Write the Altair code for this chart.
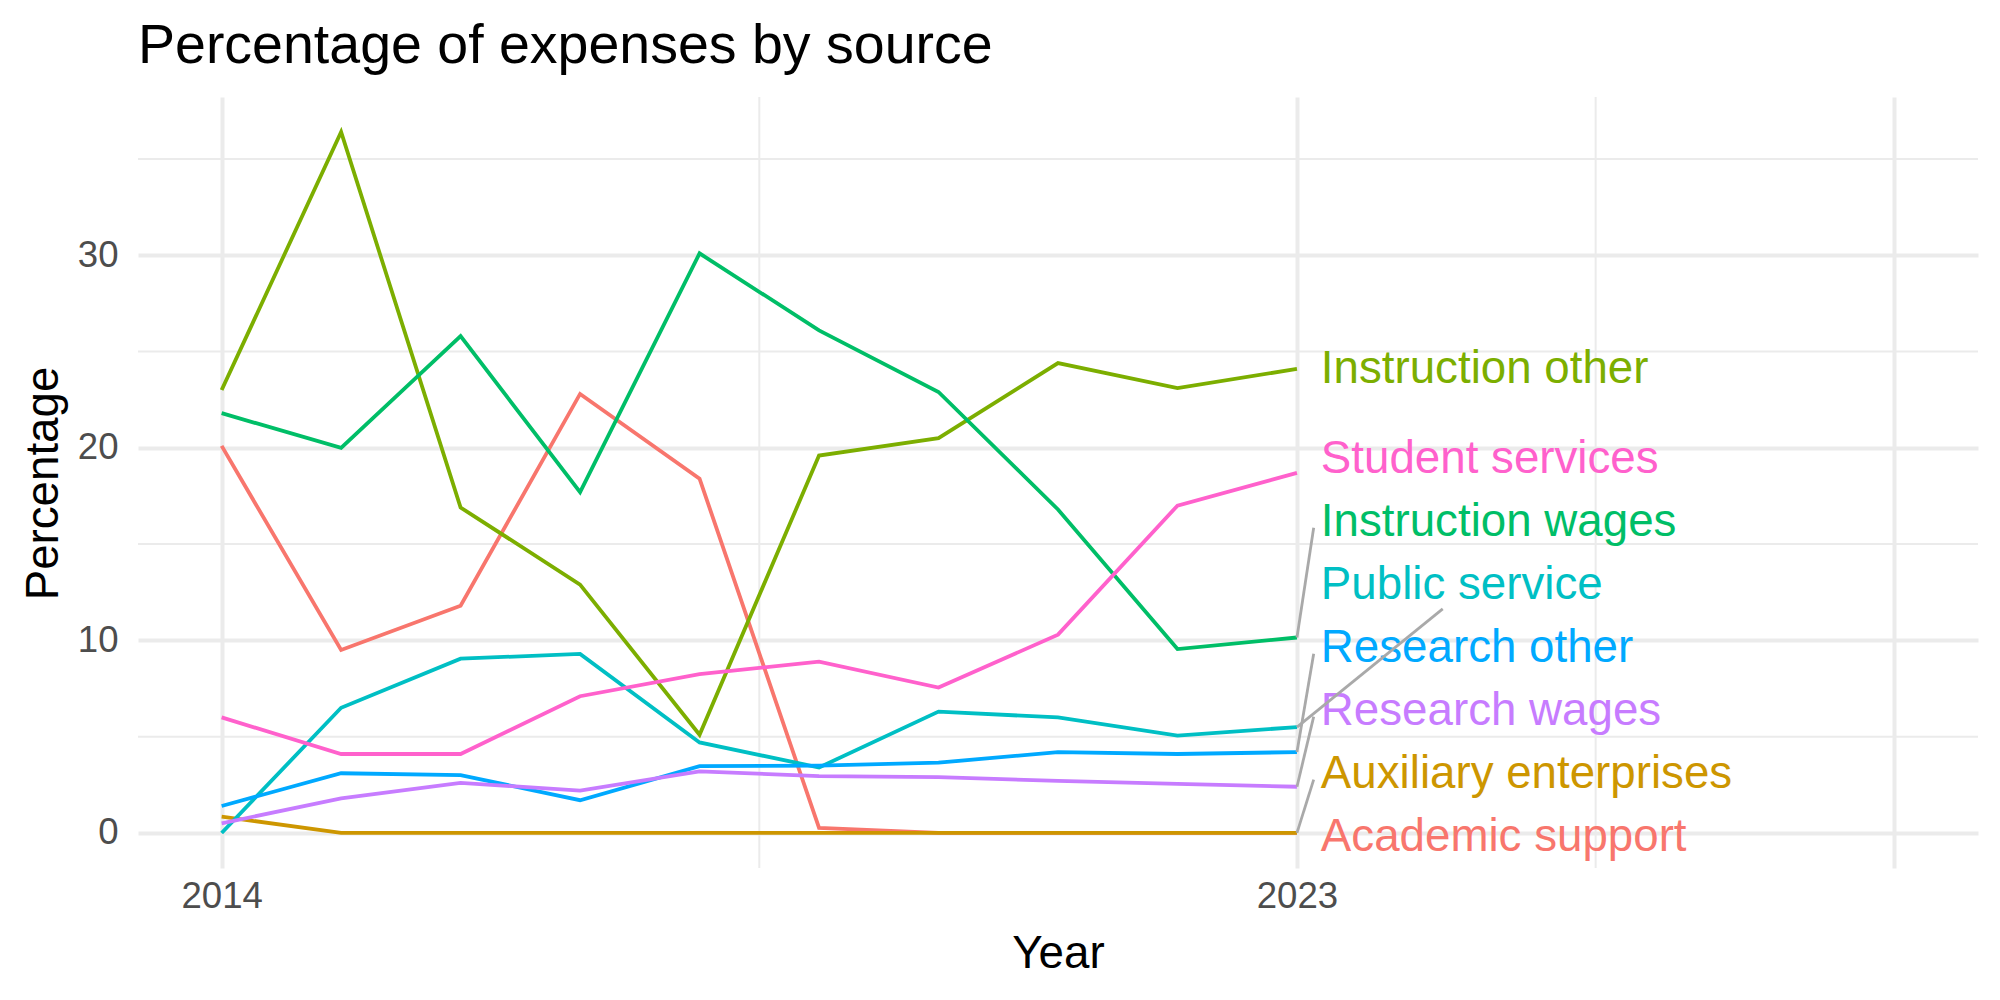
import altair as alt
import pandas as pd

# ---- data -------------------------------------------------------------
years = list(range(2014, 2024))

academic_support = [20.1, 9.5, 11.8, 22.8, 18.4, 0.26, 0.0, 0.0, 0.0, 0.0]
auxiliary_enterprises = [0.85, 0.0, 0.0, 0.0, 0.0, 0.0, 0.0, 0.0, 0.0, 0.0]
instruction_other = [23.0, 36.4, 16.9, 12.9, 5.1, 19.6, 20.5, 24.4, 23.1, 24.1]
instruction_wages = [21.8, 20.0, 25.8, 17.7, 30.1, 26.1, 22.9, 16.8, 9.55, 10.15]
public_service = [0.0, 6.5, 9.05, 9.3, 4.7, 3.4, 6.3, 6.0, 5.05, 5.5]
research_other = [1.4, 3.1, 3.0, 1.7, 3.47, 3.5, 3.65, 4.2, 4.1, 4.2]
research_wages = [0.5, 1.8, 2.6, 2.2, 3.2, 2.95, 2.9, 2.7, 2.55, 2.4]
student_services = [6.0, 4.1, 4.1, 7.1, 8.25, 8.9, 7.55, 10.3, 17.0, 18.7]

sources = [
    "Academic support", "Auxiliary enterprises", "Instruction other",
    "Instruction wages", "Public service", "Research other",
    "Research wages", "Student services",
]
series = [
    academic_support, auxiliary_enterprises, instruction_other,
    instruction_wages, public_service, research_other,
    research_wages, student_services,
]
palette = ["#F8766D", "#CD9600", "#7CAE00", "#00BE67",
           "#00BFC4", "#00A9FF", "#C77CFF", "#FF61CC"]

x_breaks = [2014, 2023, 2028]
y_breaks = [0, 10, 20, 30]

# ---- long table -------------------------------------------------------
rows = []
for name, vals in zip(sources, series):
    for yr, v in zip(years, vals):
        rows.append({"Source": name, "Year": yr, "Percentage": v})
df = pd.DataFrame(rows)

# ---- scales (5% expansion as in ggplot) -------------------------------
x_lo, x_hi = min(x_breaks), max(x_breaks)
x_pad = 0.05 * (x_hi - x_lo)
x_dom = [x_lo - x_pad, x_hi + x_pad]
all_vals = [v for s in series for v in s]
y_lo, y_hi = min(all_vals), max(all_vals)
y_pad = 0.05 * (y_hi - y_lo)
y_dom = [y_lo - y_pad, y_hi + y_pad]

xs = alt.Scale(domain=x_dom, nice=False, zero=False)
ys = alt.Scale(domain=y_dom, nice=False, zero=False)
cs = alt.Scale(domain=sources, range=palette)

# minor gridlines sit halfway between major ones
x_minor = [(a + b) / 2 for a, b in zip(x_breaks[:-1], x_breaks[1:])]
y_minor = [(a + b) / 2 for a, b in zip(y_breaks[:-1], y_breaks[1:])]
y_minor.append(y_breaks[-1] + (y_breaks[1] - y_breaks[0]) / 2)

GRID = "#EBEBEB"
FONT = "Liberation Sans"

# ---- end labels, stacked upward so they do not overlap ----------------
gap = 3.27
label_x = years[-1] + 0.2
ends = [(name, vals[-1]) for name, vals in zip(sources, series)]
ends_sorted = sorted(ends, key=lambda t: t[1])
lab_rows = []
prev = None
for name, v in ends_sorted:
    pos = v - 0.2 if prev is None else max(v, prev + gap)
    prev = pos
    lab_rows.append({"Source": name, "end": v, "lx": label_x, "ly": pos})
labels = pd.DataFrame(lab_rows)

# connectors for labels that were pushed away from their line end
seg_rows = []
for r in lab_rows:
    if abs(r["ly"] - r["end"]) > 1.5:
        if r["Source"] == "Public service":
            sx, sy = r["lx"] + 1.02, r["ly"] - 1.24
        else:
            sx, sy = r["lx"] - 0.06, r["ly"] - 0.3
        seg_rows.append({"Source": r["Source"], "x0": years[-1],
                         "y0": r["end"], "x1": sx, "y1": sy})
segs = pd.DataFrame(seg_rows)

# ---- layers -----------------------------------------------------------
vminor = alt.Chart(pd.DataFrame({"v": x_minor})).mark_rule(
    color=GRID, strokeWidth=2
).encode(x=alt.X("v:Q", scale=xs))

hminor = alt.Chart(pd.DataFrame({"v": y_minor})).mark_rule(
    color=GRID, strokeWidth=2
).encode(y=alt.Y("v:Q", scale=ys))

lines = alt.Chart(df).mark_line(strokeWidth=3.8).encode(
    x=alt.X(
        "Year:Q", scale=xs, title="Year",
        axis=alt.Axis(
            values=x_breaks, format="d",
            labelExpr="datum.value == 2028 ? '' : datum.label",
            grid=True, gridColor=GRID, gridWidth=4,
            domain=False, ticks=False, labelFlush=False,
            labelFontSize=36.6, labelColor="#4D4D4D", labelPadding=10,
            titleFontSize=45.7, titleFontWeight="normal", titleColor="black",
            titleBaseline="alphabetic", titleY=99,
        ),
    ),
    y=alt.Y(
        "Percentage:Q", scale=ys, title="Percentage",
        axis=alt.Axis(
            values=y_breaks, format="d",
            grid=True, gridColor=GRID, gridWidth=4,
            domain=False, ticks=False,
            labelFontSize=36.6, labelColor="#4D4D4D", labelPadding=20,
            titleFontSize=45.7, titleFontWeight="normal", titleColor="black",
            titleBaseline="alphabetic", titleX=-81, titleY=386, titleAngle=270,
        ),
    ),
    color=alt.Color("Source:N", scale=cs, legend=None),
    detail="Source:N",
)

texts = alt.Chart(labels).mark_text(
    align="left", baseline="middle", fontSize=45.7, font=FONT
).encode(
    x=alt.X("lx:Q", scale=xs),
    y=alt.Y("ly:Q", scale=ys),
    text="Source:N",
    color=alt.Color("Source:N", scale=cs, legend=None),
)

connectors = alt.Chart(segs).mark_rule(color="#A9A9A9", strokeWidth=2.8).encode(
    x=alt.X("x0:Q", scale=xs),
    y=alt.Y("y0:Q", scale=ys),
    x2="x1:Q",
    y2="y1:Q",
)

chart = alt.layer(vminor, hminor, lines, texts, connectors).properties(
    width=1840,
    height=771,
    autosize=alt.AutoSizeParams(type="none"),
    padding={"left": 138, "top": 97, "right": 22, "bottom": 132},
    title=alt.TitleParams(
        "Percentage of expenses by source",
        anchor="start", frame="group", fontSize=55.5, font=FONT,
        fontWeight="normal", color="black", baseline="alphabetic",
        offset=34, dy=56,
    ),
).configure(
    font=FONT,
    background="white",
).configure_view(
    strokeOpacity=0,
)

chart.save("out.html", embed_options={"renderer": "svg", "actions": False})
